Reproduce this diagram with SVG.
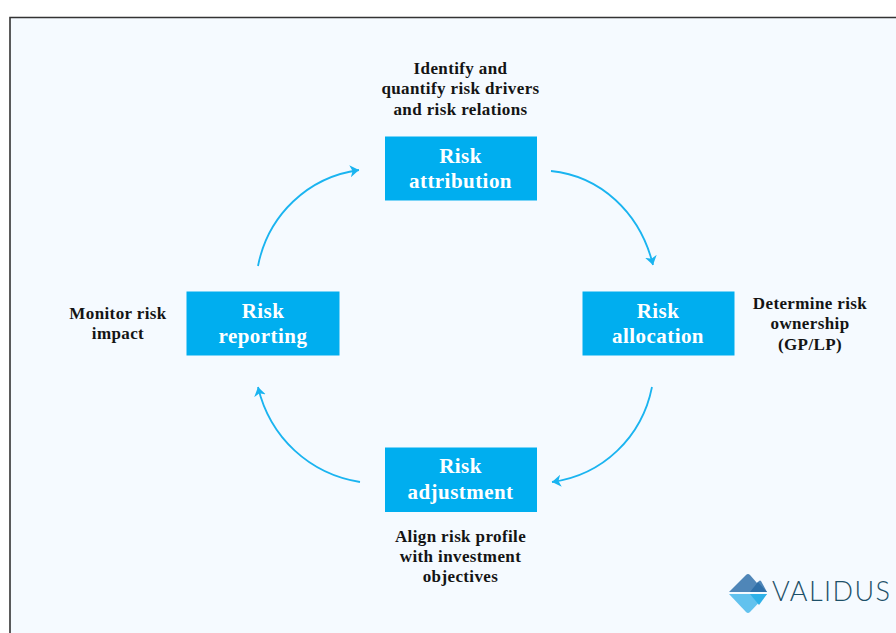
<svg xmlns="http://www.w3.org/2000/svg" width="896" height="633" viewBox="0 0 896 633">
<style>
.n{fill:#00aeef}
.t{font-family:"Liberation Serif","Noto Serif",serif;font-weight:700;text-anchor:middle}
.w{fill:#fff;font-size:21px;letter-spacing:.45px}
.k{fill:#141414;font-size:17px;letter-spacing:.38px}
.c{fill:none;stroke:#1ab4f0;stroke-width:1.8;marker-end:url(#a)}
</style>
<defs>
<marker id="a" markerUnits="userSpaceOnUse" markerWidth="14" markerHeight="14" refX="9" refY="6" orient="auto"><path d="M0 0L9 6L0 12L2.5 6Z" fill="#1ab4f0"/></marker>
</defs>
<rect width="896" height="633" fill="#fff"/>
<rect x="10" y="17.500" width="886" height="615.500" fill="#f5faff"/>
<path d="M10 633V17.500H896" fill="none" stroke="#333" stroke-width="1.600"/>
<g id="connectors">
<path class="c" d="M551 171C600 176 640 212 653 265"/>
<path class="c" d="M652 387C642 437 603 475 552 482"/>
<path class="c" d="M360 482C310 474 270 438 258 387"/>
<path class="c" d="M258 266C268 215 308 177 359 170"/>
</g>
<g id="node-attribution"><rect class="n" x="385" y="136.500" width="152" height="64"/><text class="t w" x="460.500" y="162.500">Risk</text><text class="t w" x="460.500" y="187.500">attribution</text></g>
<g id="node-allocation"><rect class="n" x="582.500" y="291.500" width="152" height="64"/><text class="t w" x="658" y="317.500">Risk</text><text class="t w" x="658" y="342.500">allocation</text></g>
<g id="node-adjustment"><rect class="n" x="385" y="447.500" width="152" height="64.500"/><text class="t w" x="460.500" y="472.500">Risk</text><text class="t w" x="460.500" y="498.500">adjustment</text></g>
<g id="node-reporting"><rect class="n" x="186.500" y="291.500" width="153" height="64"/><text class="t w" x="263" y="317.500">Risk</text><text class="t w" x="263" y="342.500">reporting</text></g>
<g id="label-attribution"><text class="t k" x="460.500" y="74">Identify and</text><text class="t k" x="460.500" y="94">quantify risk drivers</text><text class="t k" x="460.500" y="115">and risk relations</text></g>
<g id="label-allocation"><text class="t k" x="810" y="309">Determine risk</text><text class="t k" x="810" y="329">ownership</text><text class="t k" x="810" y="350">(GP/LP)</text></g>
<g id="label-adjustment"><text class="t k" x="460.500" y="542">Align risk profile</text><text class="t k" x="460.500" y="562">with investment</text><text class="t k" x="460.500" y="582">objectives</text></g>
<g id="label-reporting"><text class="t k" x="118" y="319">Monitor risk</text><text class="t k" x="118" y="339">impact</text></g>
<g id="logo">
<path d="M729 592L746 575Q748 573 750 575L757 583L759 581Q760 580 761 581L767 592Z" fill="#4f86b8"/>
<path d="M750 592L758 582L767 592Z" fill="#2f6fa8"/>
<path d="M729 594H767L750 612Q748 614 746 612Z" fill="#62c2ee"/>
<path d="M750 594H767L759 605Z" fill="#2eb1e8"/>
<text x="772" y="601" font-family="Lato,'Open Sans',sans-serif" font-weight="300" font-size="27" fill="#1d5068" letter-spacing="1.450">VALIDUS</text>
</g>
</svg>
